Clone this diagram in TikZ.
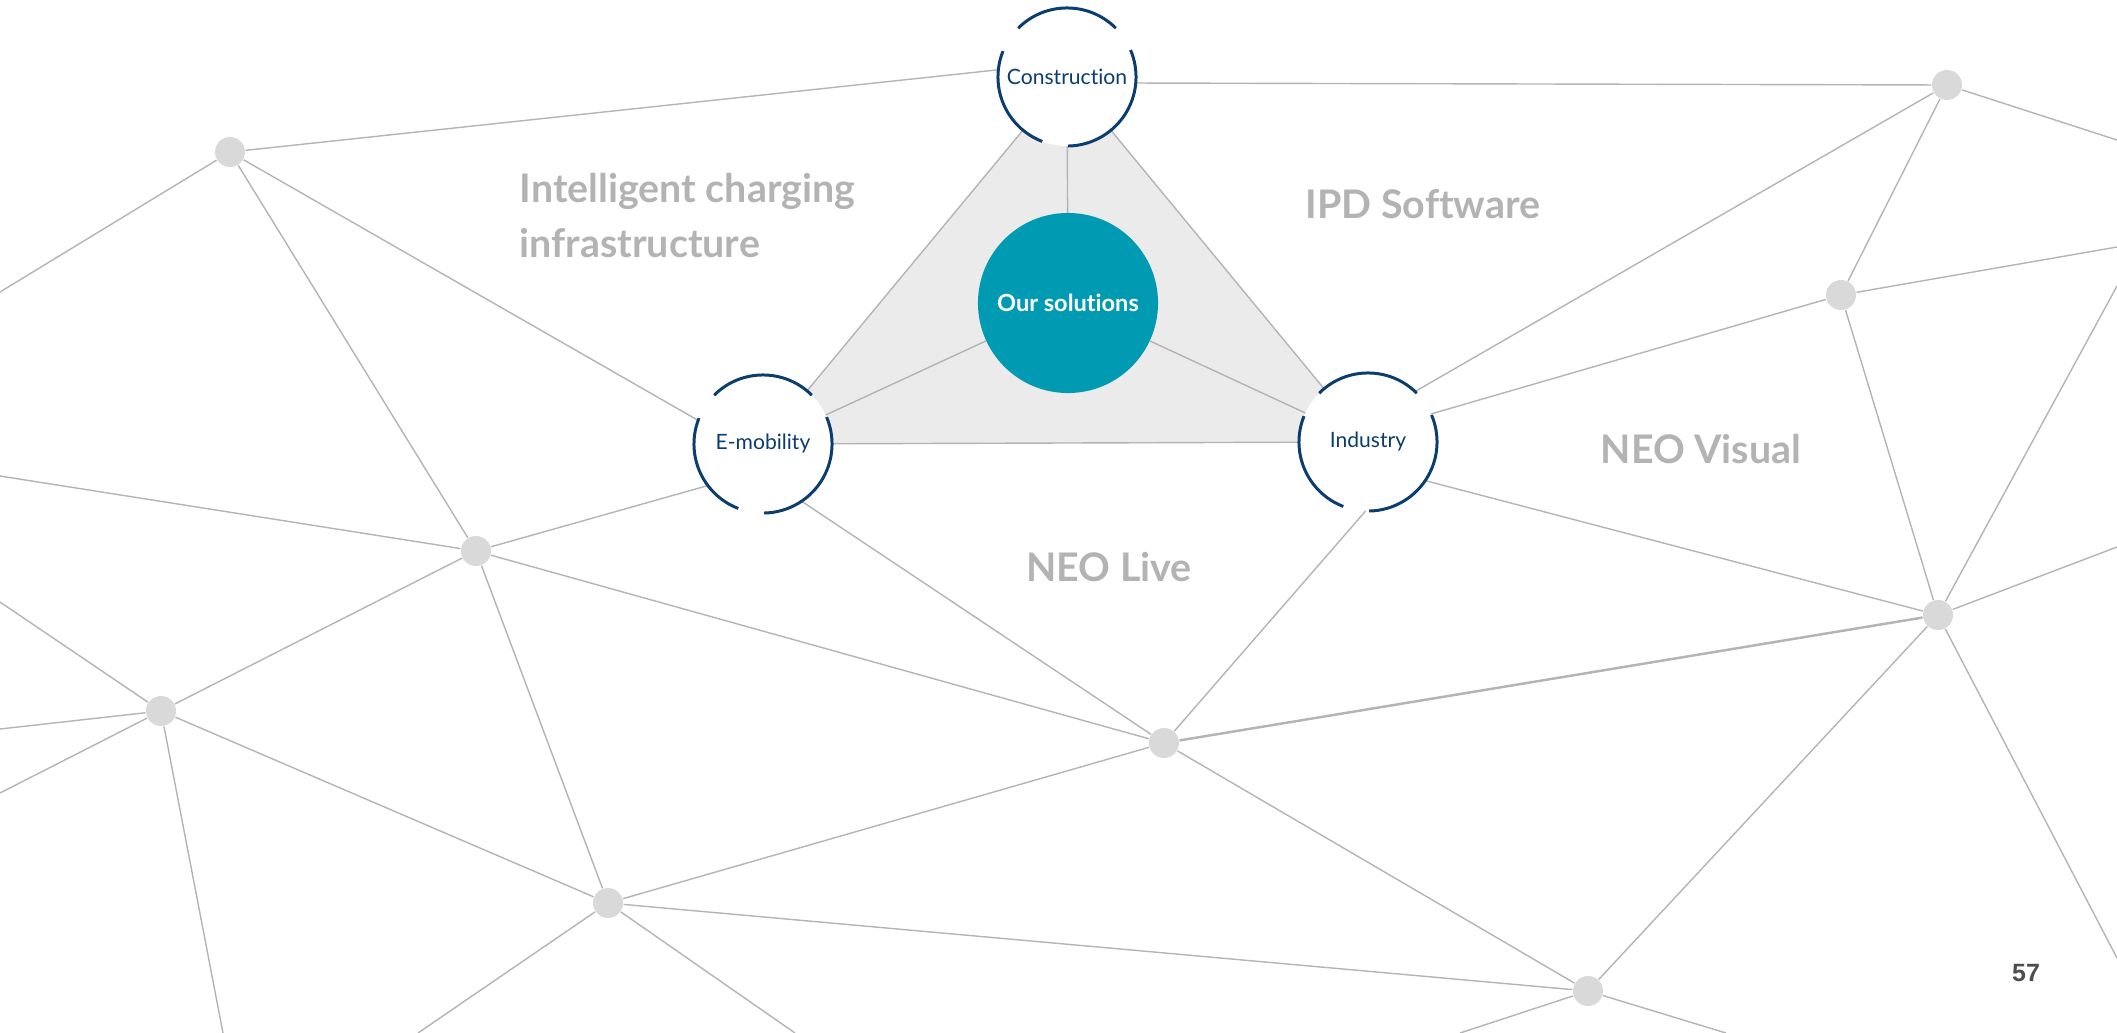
\documentclass[tikz,border=0pt]{standalone}
\usepackage{fontspec}
\setmainfont{Lato}[Ligatures=NoCommon]
\newfontfamily\pagefont{Liberation Sans}
\usetikzlibrary{backgrounds}

\definecolor{navy}{HTML}{0B3D6F}
\definecolor{teal}{HTML}{009BB2}
\definecolor{linegray}{HTML}{B4B4B4}
\definecolor{hubgray}{HTML}{D9D9D9}
\definecolor{trigray}{HTML}{EBEBEB}
\definecolor{labelgray}{HTML}{B3B3B3}
\definecolor{pagegray}{HTML}{4D4D4D}

\begin{document}
\begin{tikzpicture}[x=0.01cm, y=-0.01cm,
    hub/.style={circle, fill=hubgray, minimum size=0.3cm, inner sep=0pt},
    ring node/.style={circle, fill=white, minimum size=1.38cm, inner sep=0pt, outer sep=0pt, text=navy, font=\fontsize{6}{7}\selectfont},
    link/.style={draw=linegray, line width=0.4pt},
    ring/.style={draw=navy, line width=0.85pt},
    field label/.style={text=labelgray, inner sep=0pt, align=left, font=\fontsize{11.2}{15.6}\selectfont\bfseries}]
  \useasboundingbox (0,0) rectangle (2117,1033);

  \node[hub] (1) at (230,152) {};
  \node[hub] (2) at (476,551) {};
  \node[hub] (3) at (161,711) {};
  \node[hub] (4) at (608,903) {};
  \node[hub] (5) at (1164,743) {};
  \node[hub] (6) at (1588,991) {};
  \node[hub] (7) at (1938,615) {};
  \node[hub] (8) at (1841,295) {};
  \node[hub] (9) at (1947,85) {};

  \coordinate (w1) at (0,292);
  \coordinate (w2) at (0,476);
  \coordinate (w3) at (0,602);
  \coordinate (w4) at (0,729);
  \coordinate (w5) at (0,793);
  \coordinate (s1) at (223,1033);
  \coordinate (s2) at (418,1033);
  \coordinate (s3) at (795,1033);
  \coordinate (s4) at (1460,1033);
  \coordinate (s5) at (1726,1033);
  \coordinate (e1) at (2117,140);
  \coordinate (e2) at (2117,247);
  \coordinate (e3) at (2117,286);
  \coordinate (e4) at (2117,547);
  \coordinate (e5) at (2117,958);

  \node[ring node] (con) at (1067,77) {Construction};
  \node[ring node] (emo) at (763,444) {E-mobility};
  \node[ring node] (ind) at (1368,442) {Industry};
  \node[circle, fill=teal, minimum size=1.8cm, inner sep=0pt, outer sep=0pt, text=white,
        font=\fontsize{6.7}{8}\selectfont\bfseries] (sol) at (1068,303) {Our solutions};

  \begin{scope}[on background layer]
    \filldraw[fill=trigray, link] (con.center) -- (emo.center) -- (ind.center) -- cycle;
  \end{scope}

  \draw[link] (sol) -- (con);
  \draw[link] (sol) -- (emo);
  \draw[link] (sol) -- (ind);

  \draw[link] (1) -- (con.174);
  \draw[link] (1) -- (emo.160);
  \draw[link] (1) -- (2);
  \draw[link] (1) -- (w1);

  \draw[link] (2) -- (emo.217);
  \draw[link] (2) -- (w2);
  \draw[link] (2) -- (3);
  \draw[link] (2) -- (4);
  \draw[link] (2) -- (5);

  \draw[link] (3) -- (w3);
  \draw[link] (3) -- (w4);
  \draw[link] (3) -- (w5);
  \draw[link] (3) -- (s1);
  \draw[link] (3) -- (4);

  \draw[link] (4) -- (s2);
  \draw[link] (4) -- (s3);
  \draw[link] (4) -- (5);
  \draw[link] (4) -- (6);

  \draw[link] (emo.304) -- (5);
  \draw[link] (ind.268) -- (5);
  \draw[link] (5) -- (6);
  \draw[link, line width=0.7pt] (5) -- (7);

  \draw[link] (6) -- (s4);
  \draw[link] (6) -- (s5);
  \draw[link] (6) -- (7);

  \draw[link] (ind.326) -- (7);
  \draw[link] (7) -- (8);
  \draw[link] (7) -- (e3);
  \draw[link] (7) -- (e4);
  \draw[link] (7) -- (e5);

  \draw[link] (ind.24) -- (8);
  \draw[link] (8) -- (9);
  \draw[link] (8) -- (e2);

  \draw[link] (con.355) -- (9);
  \draw[link] (ind.47) -- (9);
  \draw[link] (9) -- (e1);

  \foreach \n in {con,emo,ind} {
    \draw[ring] (\n.271) arc[start angle=271, end angle=383, radius=0.69cm];
    \draw[ring] (\n.45) arc[start angle=45, end angle=135, radius=0.69cm];
    \draw[ring] (\n.158) arc[start angle=158, end angle=249, radius=0.69cm];
  }

  \node[field label, anchor=north west] (icharge) at (519,173) {Intelligent charging\\infrastructure};
  \node[field label, anchor=base west] (ipd) at (1305,218) {IPD Software};
  \node[field label, anchor=base west] (visual) at (1600,463) {NEO Visual};
  \node[field label, anchor=base] (live) at (1109,581) {NEO Live};

  \node[text=pagegray, font=\pagefont\fontsize{7.1}{8}\selectfont\bfseries, anchor=base] (page) at (2026,981) {57};
\end{tikzpicture}
\end{document}
